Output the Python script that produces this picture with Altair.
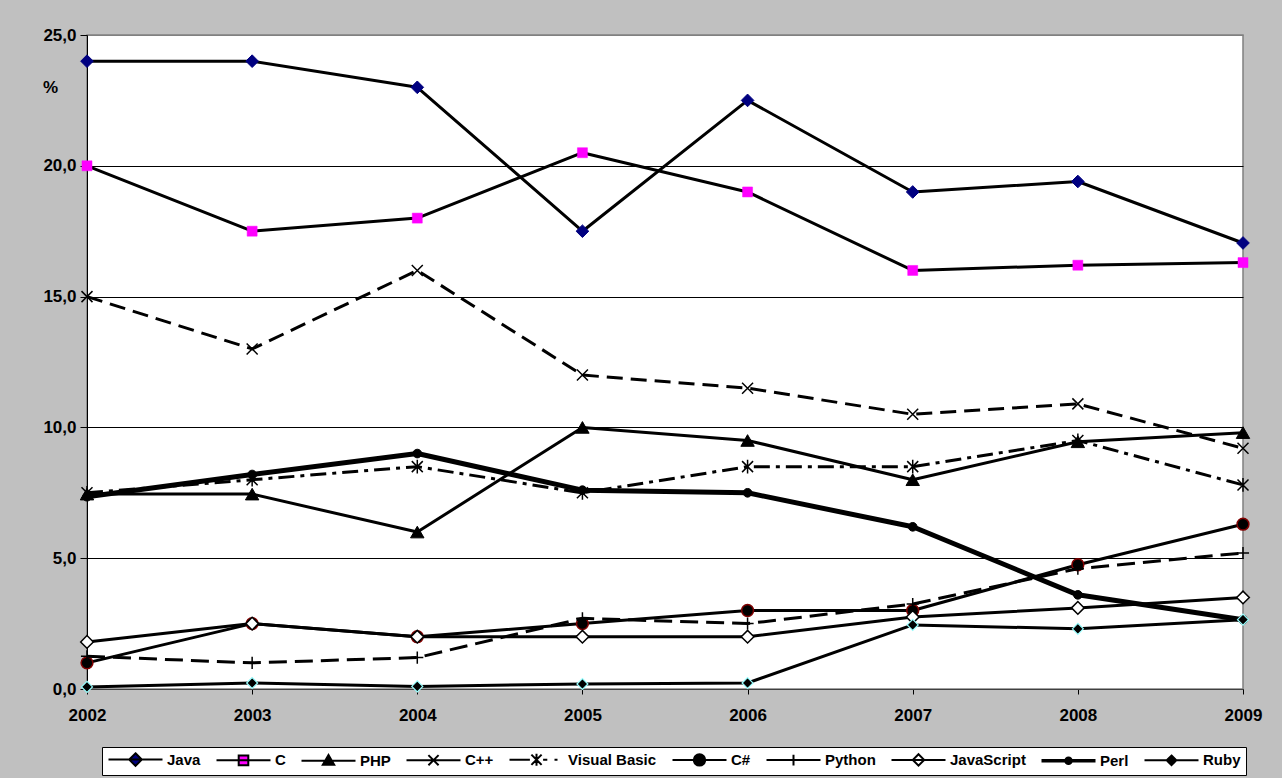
import altair as alt
import pandas as pd

years = [2002, 2003, 2004, 2005, 2006, 2007, 2008, 2009]
langs = ["Java", "C", "PHP", "C++", "Visual Basic", "C#", "Python", "JavaScript", "Perl", "Ruby"]

java = [24.0, 24.0, 23.0, 17.5, 22.5, 19.0, 19.4, 17.05]
c_lang = [20.0, 17.5, 18.0, 20.5, 19.0, 16.0, 16.2, 16.3]
php = [7.45, 7.45, 6.0, 10.0, 9.5, 8.0, 9.45, 9.8]
cpp = [15.0, 13.0, 16.0, 12.0, 11.5, 10.5, 10.9, 9.2]
vb = [7.5, 8.0, 8.5, 7.5, 8.5, 8.5, 9.5, 7.8]
csharp = [1.0, 2.5, 2.0, 2.5, 3.0, 3.0, 4.75, 6.3]
python = [1.25, 1.0, 1.2, 2.7, 2.5, 3.25, 4.6, 5.2]
javascript = [1.8, 2.5, 2.0, 2.0, 2.0, 2.75, 3.1, 3.5]
perl = [7.35, 8.2, 9.0, 7.6, 7.5, 6.2, 3.6, 2.65]
ruby = [0.08, 0.23, 0.1, 0.19, 0.23, 2.45, 2.3, 2.65]

series_values = [java, c_lang, php, cpp, vb, csharp, python, javascript, perl, ruby]

rows = []
for lang, vals in zip(langs, series_values):
    for y, v in zip(years, vals):
        rows.append({"lang": lang, "year": y, "value": v})
df = pd.DataFrame(rows)

FONT = "Liberation Sans"

X_PATH = "M-1,-1L1,1M-1,1L1,-1"
AST_PATH = "M-1,-1L1,1M-1,1L1,-1M0,-1.25L0,1.25"
PLUS_PATH = "M-1.1,0L1.1,0M0,-1.1L0,1.1"

styles = {
    "Java":        dict(shape="diamond", size=160, fill="#000080", stroke="#000080", sw=1, dash=None, lw=3),
    "C":           dict(shape="square", size=100, fill="#FF00FF", stroke="#FF00FF", sw=0.5, dash=None, lw=3),
    "PHP":         dict(shape="triangle-up", size=180, fill="black", stroke="black", sw=1, dash=None, lw=3),
    "C++":         dict(shape=X_PATH, size=121, fill=None, stroke="black", sw=1.5, dash=[16, 8], lw=3),
    "Visual Basic": dict(shape=AST_PATH, size=121, fill=None, stroke="black", sw=1.5, dash=[16, 6, 4, 6], lw=3),
    "C#":          dict(shape="circle", size=140, fill="black", stroke="#800000", sw=1.5, dash=None, lw=3),
    "Python":      dict(shape=PLUS_PATH, size=121, fill=None, stroke="black", sw=1.5, dash=[18, 8], lw=3),
    "JavaScript":  dict(shape="diamond", size=160, fill="white", stroke="black", sw=1.5, dash=None, lw=3),
    "Perl":        dict(shape="circle", size=75, fill="black", stroke="black", sw=1, dash=None, lw=5),
    "Ruby":        dict(shape="diamond", size=120, fill="black", stroke="#99FFFF", sw=1.2, dash=None, lw=3),
}

x_enc = alt.X("year:Q", scale=alt.Scale(domain=[2002, 2009], nice=False, zero=False),
              axis=alt.Axis(values=years, format="d", title=None, grid=False,
                            tickSize=5, labelPadding=13, domainColor="#404040",
                            tickColor="black", labelFlush=False))
y_enc = alt.Y("value:Q", scale=alt.Scale(domain=[0, 25], nice=False, zero=True),
              axis=alt.Axis(values=[0, 5, 10, 15, 20, 25],
                            labelExpr="replace(format(datum.value, '.1f'), '.', ',')",
                            title="%", titleAngle=0, titleX=-37, titleY=52,
                            titleAlign="center", titleBaseline="middle",
                            tickSize=7, labelPadding=4, domainColor="black",
                            tickColor="black",
                            gridColor={"condition": {"test": "datum.value == 25", "value": "#808080"}, "value": "black"},
                            gridWidth=1))

layers = []
for i, lang in enumerate(langs):
    st = styles[lang]
    base = alt.Chart(df).transform_filter(alt.datum.lang == lang)
    line_kwargs = dict(color="black", strokeWidth=st["lw"], strokeCap="butt", strokeJoin="round")
    if st["dash"]:
        line_kwargs["strokeDash"] = st["dash"]
    enc_x = x_enc if i == 0 else alt.X("year:Q")
    enc_y = y_enc if i == 0 else alt.Y("value:Q")
    layers.append(base.mark_line(**line_kwargs).encode(x=enc_x, y=enc_y))
    pt_kwargs = dict(shape=st["shape"], size=st["size"], stroke=st["stroke"],
                     strokeWidth=st["sw"], opacity=1)
    if st["fill"]:
        pt_kwargs["fill"] = st["fill"]
        pt_kwargs["filled"] = True
    else:
        pt_kwargs["filled"] = False
    layers.append(base.mark_point(**pt_kwargs).encode(x="year:Q", y="value:Q"))

# legend symbols: line segment with marker in the middle (path units of 6px)
cx = 3.5
def seg(extra):
    return "M-1,0L8,0" + extra

def diamond(r):
    return f"M{cx},{-r}L{cx + r},0L{cx},{r}L{cx - r},0Z"

def circle(r):
    return f"M{cx - r},0A{r},{r} 0 1,1 {cx + r},0A{r},{r} 0 1,1 {cx - r},0Z"

leg_shapes = [
    seg(diamond(1.05)),
    seg(f"M{cx-0.8},-0.8L{cx+0.8},-0.8L{cx+0.8},0.8L{cx-0.8},0.8Z"),
    seg(f"M{cx},-0.95L{cx+0.95},0.7L{cx-0.95},0.7Z"),
    seg(f"M{cx-0.85},-0.85L{cx+0.85},0.85M{cx-0.85},0.85L{cx+0.85},-0.85"),
    f"M-1,0L{cx-1.1},0M{cx-0.85},-0.85L{cx+0.85},0.85M{cx-0.85},0.85L{cx+0.85},-0.85M{cx},-1L{cx},1"
    f"M{cx+1.1},0L{cx+1.8},0M{cx+3.0},0L{cx+3.5},0",
    seg(circle(0.95)),
    seg(f"M{cx-0.9},0L{cx+0.9},0M{cx},-0.9L{cx},0.9"),
    seg(diamond(0.95)),
    "M-1,-0.14L8,-0.14M-1,0.14L8,0.14" + circle(0.55),
    seg(diamond(0.8)),
]
leg_fill = ["#000080", "#FF00FF", "black", "white", "white", "black", "white", "white", "black", "black"]
leg_stroke = ["black"] * 10

legend_layer = alt.Chart(df).transform_filter("datum.value < -100").mark_point(
    filled=True, opacity=1, strokeWidth=2
).encode(
    x="year:Q", y="value:Q",
    shape=alt.Shape("lang:N", scale=alt.Scale(domain=langs, range=leg_shapes), title=None),
    fill=alt.Fill("lang:N", scale=alt.Scale(domain=langs, range=leg_fill), title=None),
    stroke=alt.Stroke("lang:N", scale=alt.Scale(domain=langs, range=leg_stroke), title=None),
)
layers.append(legend_layer)

chart = alt.layer(*layers).properties(
    width=1156, height=654,
    autosize=alt.AutoSizeParams(type="none"),
    padding={"left": 87, "top": 35, "right": 39, "bottom": 89},
    background="#C0C0C0",
).configure_view(
    fill="white", stroke="#808080", strokeWidth=1.5
).configure_axis(
    labelFont=FONT, labelFontSize=17, labelFontWeight="bold", labelColor="black",
    titleFont=FONT, titleFontSize=17, titleFontWeight="bold", titleColor="black",
    domainWidth=1, tickWidth=1,
).configure_legend(
    orient="none", legendX=15, legendY=712, direction="horizontal", columns=10,
    strokeColor="black", fillColor="white", padding=5, cornerRadius=0,
    labelFont=FONT, labelFontSize=15, labelFontWeight="bold", labelColor="black",
    symbolSize=144, symbolStrokeWidth=2, labelOffset=45, columnPadding=11,
    labelLimit=0,
)

chart.save("out.html", embed_options={"renderer": "svg", "actions": False})
